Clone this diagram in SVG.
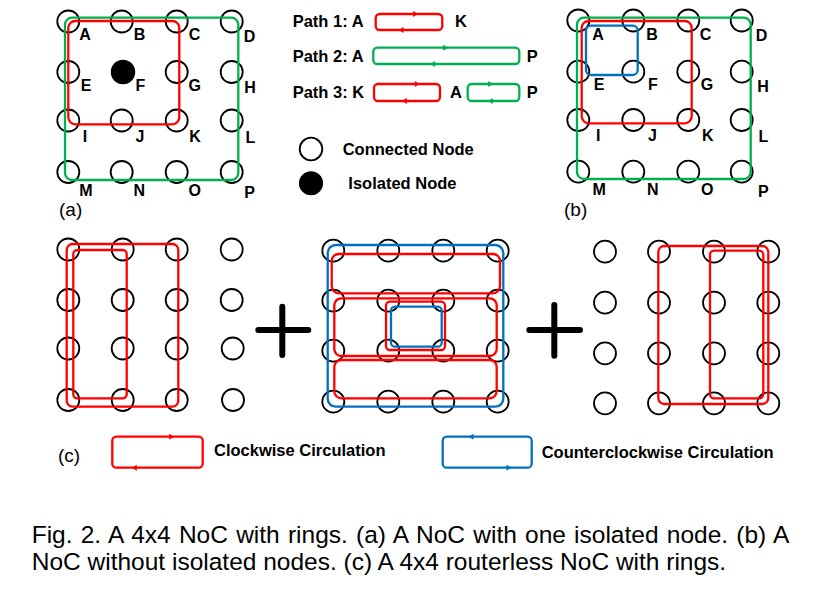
<svg xmlns="http://www.w3.org/2000/svg" xmlns:xlink="http://www.w3.org/1999/xlink" width="823" height="598" viewBox="0 0 823 598">
<style>
.n{fill:#fff;stroke:#000;stroke-width:1.8}
.iso{fill:#000;stroke:#000;stroke-width:1.5}
.lb{font-family:"Liberation Sans",Arial,sans-serif;font-weight:bold;font-size:16px;fill:#000;text-anchor:middle}
.bt{font-family:"Liberation Sans",Arial,sans-serif;font-weight:bold;font-size:16.5px;fill:#000}
.rg{font-family:"Liberation Sans",Arial,sans-serif;font-size:19px;fill:#000}
.cap{font-family:"Liberation Sans",Arial,sans-serif;font-size:24.5px;fill:#000}
.r{fill:none;stroke:#ff0000;stroke-width:2.3}
.g{fill:none;stroke:#00b050;stroke-width:2.3}
.b{fill:none;stroke:#0070c0;stroke-width:2.3}
.plus{stroke:#000;stroke-width:6;stroke-linecap:round;fill:none}
</style>
<defs>
<path id="ar" d="M1.5,0 L-3.5,-3 L-3.5,3 Z"/>
<path id="al" d="M-1.5,0 L3.5,-3 L3.5,3 Z"/>
</defs>
<rect width="823" height="598" fill="#fff"/>

<!-- Panel (a) -->
<g id="a-nodes">
<g id="a-A"><circle class="n" cx="68.3" cy="21.5" r="11"/><text class="lb" x="85" y="40">A</text></g>
<g id="a-B"><circle class="n" cx="121.7" cy="21.5" r="11"/><text class="lb" x="139.5" y="40">B</text></g>
<g id="a-C"><circle class="n" cx="176.7" cy="21.5" r="11"/><text class="lb" x="194.5" y="40">C</text></g>
<g id="a-D"><circle class="n" cx="231.7" cy="21.5" r="11"/><text class="lb" x="249.5" y="41.5">D</text></g>
<g id="a-E"><circle class="n" cx="68.3" cy="72" r="11"/><text class="lb" x="86" y="91">E</text></g>
<g id="a-F"><circle class="iso" cx="123" cy="72" r="11.5"/><text class="lb" x="140.3" y="91">F</text></g>
<g id="a-G"><circle class="n" cx="176.7" cy="72" r="11"/><text class="lb" x="194.7" y="91">G</text></g>
<g id="a-H"><circle class="n" cx="231.7" cy="72" r="11"/><text class="lb" x="250" y="92.5">H</text></g>
<g id="a-I"><circle class="n" cx="68.3" cy="120.5" r="11"/><text class="lb" x="85" y="142">I</text></g>
<g id="a-J"><circle class="n" cx="121.7" cy="120.5" r="11"/><text class="lb" x="140" y="142">J</text></g>
<g id="a-K"><circle class="n" cx="176.7" cy="120.5" r="11"/><text class="lb" x="195" y="142">K</text></g>
<g id="a-L"><circle class="n" cx="231.7" cy="120.5" r="11"/><text class="lb" x="250.3" y="142.5">L</text></g>
<g id="a-M"><circle class="n" cx="68.3" cy="172" r="11"/><text class="lb" x="85.8" y="196">M</text></g>
<g id="a-N"><circle class="n" cx="121.7" cy="172" r="11"/><text class="lb" x="139.2" y="196">N</text></g>
<g id="a-O"><circle class="n" cx="176.7" cy="172" r="11"/><text class="lb" x="194.7" y="196">O</text></g>
<g id="a-P"><circle class="n" cx="231.7" cy="172" r="11"/><text class="lb" x="249.5" y="197.5">P</text></g>
</g>
<text class="rg" x="59" y="216">(a)</text>

<!-- Panel (b) -->
<g id="b-nodes">
<g id="b-A"><circle class="n" cx="578.3" cy="20.5" r="11"/><text class="lb" x="598" y="39.5">A</text></g>
<g id="b-B"><circle class="n" cx="633.3" cy="20.5" r="11"/><text class="lb" x="652" y="39.5">B</text></g>
<g id="b-C"><circle class="n" cx="688.3" cy="20.5" r="11"/><text class="lb" x="705.5" y="39.5">C</text></g>
<g id="b-D"><circle class="n" cx="741.7" cy="20.5" r="11"/><text class="lb" x="761.5" y="41">D</text></g>
<g id="b-E"><circle class="n" cx="578.3" cy="71.7" r="11"/><text class="lb" x="599" y="90">E</text></g>
<g id="b-F"><circle class="n" cx="633.3" cy="71.7" r="11"/><text class="lb" x="652.8" y="90">F</text></g>
<g id="b-G"><circle class="n" cx="688.3" cy="71.7" r="11"/><text class="lb" x="707" y="90">G</text></g>
<g id="b-H"><circle class="n" cx="741.7" cy="71.7" r="11"/><text class="lb" x="763" y="92">H</text></g>
<g id="b-I"><circle class="n" cx="578.3" cy="120" r="11"/><text class="lb" x="598.3" y="140.5">I</text></g>
<g id="b-J"><circle class="n" cx="633.3" cy="120" r="11"/><text class="lb" x="652.5" y="140.5">J</text></g>
<g id="b-K"><circle class="n" cx="688.3" cy="120" r="11"/><text class="lb" x="707.7" y="140.5">K</text></g>
<g id="b-L"><circle class="n" cx="741.7" cy="120" r="11"/><text class="lb" x="763.3" y="141.5">L</text></g>
<g id="b-M"><circle class="n" cx="578.3" cy="171.7" r="11"/><text class="lb" x="599.2" y="195">M</text></g>
<g id="b-N"><circle class="n" cx="633.3" cy="171.7" r="11"/><text class="lb" x="652.8" y="195">N</text></g>
<g id="b-O"><circle class="n" cx="688.3" cy="171.7" r="11"/><text class="lb" x="707.3" y="195">O</text></g>
<g id="b-P"><circle class="n" cx="741.7" cy="171.7" r="11"/><text class="lb" x="763.3" y="196.5">P</text></g>
</g>
<text class="rg" x="564" y="216">(b)</text>

<!-- Top legend -->
<g id="legend-top">
<text class="bt" x="292.7" y="27">Path 1: A</text>
<text class="bt" x="455" y="27">K</text>
<text class="bt" x="292.7" y="62">Path 2: A</text>
<text class="bt" x="526.7" y="62">P</text>
<text class="bt" x="292.7" y="98">Path 3: K</text>
<text class="bt" x="450" y="98">A</text>
<text class="bt" x="526.7" y="98">P</text>
<g id="legend-connected"><circle class="n" cx="311" cy="149" r="11.3"/><text class="bt" x="342.7" y="155">Connected Node</text></g>
<g id="legend-isolated"><circle class="iso" cx="311" cy="183.3" r="11.3"/><text class="bt" x="348.3" y="189.3">Isolated Node</text></g>
</g>

<!-- Panel (c) nodes -->
<g id="c1-nodes">
<g id="c1-n11"><circle class="n" cx="68.3" cy="249.5" r="11"/></g>
<g id="c1-n12"><circle class="n" cx="122.7" cy="249.5" r="11"/></g>
<g id="c1-n13"><circle class="n" cx="176.7" cy="249.5" r="11"/></g>
<g id="c1-n14"><circle class="n" cx="231.7" cy="249.5" r="11"/></g>
<g id="c1-n21"><circle class="n" cx="68.3" cy="300" r="11"/></g>
<g id="c1-n22"><circle class="n" cx="122.7" cy="300" r="11"/></g>
<g id="c1-n23"><circle class="n" cx="176.7" cy="300" r="11"/></g>
<g id="c1-n24"><circle class="n" cx="231.7" cy="300" r="11"/></g>
<g id="c1-n31"><circle class="n" cx="68.3" cy="348.5" r="11"/></g>
<g id="c1-n32"><circle class="n" cx="122.7" cy="348.5" r="11"/></g>
<g id="c1-n33"><circle class="n" cx="176.7" cy="348.5" r="11"/></g>
<g id="c1-n34"><circle class="n" cx="232.7" cy="348.5" r="11"/></g>
<g id="c1-n41"><circle class="n" cx="68.3" cy="400" r="11"/></g>
<g id="c1-n42"><circle class="n" cx="122.7" cy="400" r="11"/></g>
<g id="c1-n43"><circle class="n" cx="176.7" cy="400" r="11"/></g>
<g id="c1-n44"><circle class="n" cx="233" cy="400" r="11"/></g>
</g>
<g id="c2-nodes">
<g id="c2-n11"><circle class="n" cx="333.3" cy="250.7" r="11"/></g>
<g id="c2-n12"><circle class="n" cx="388.3" cy="250.7" r="11"/></g>
<g id="c2-n13"><circle class="n" cx="443.3" cy="250.7" r="11"/></g>
<g id="c2-n14"><circle class="n" cx="497.7" cy="250.7" r="11"/></g>
<g id="c2-n21"><circle class="n" cx="333.3" cy="300.7" r="11"/></g>
<g id="c2-n22"><circle class="n" cx="388.3" cy="300.7" r="11"/></g>
<g id="c2-n23"><circle class="n" cx="443.3" cy="300.7" r="11"/></g>
<g id="c2-n24"><circle class="n" cx="497.7" cy="300.7" r="11"/></g>
<g id="c2-n31"><circle class="n" cx="333.3" cy="350.7" r="11"/></g>
<g id="c2-n32"><circle class="n" cx="388.3" cy="350.7" r="11"/></g>
<g id="c2-n33"><circle class="n" cx="443.3" cy="350.7" r="11"/></g>
<g id="c2-n34"><circle class="n" cx="497.7" cy="350.7" r="11"/></g>
<g id="c2-n41"><circle class="n" cx="333.3" cy="401.7" r="11"/></g>
<g id="c2-n42"><circle class="n" cx="388.3" cy="401.7" r="11"/></g>
<g id="c2-n43"><circle class="n" cx="443.3" cy="401.7" r="11"/></g>
<g id="c2-n44"><circle class="n" cx="497.7" cy="401.7" r="11"/></g>
</g>
<g id="c3-nodes">
<g id="c3-n11"><circle class="n" cx="605" cy="251.7" r="11"/></g>
<g id="c3-n12"><circle class="n" cx="659" cy="251.7" r="11"/></g>
<g id="c3-n13"><circle class="n" cx="714" cy="251.7" r="11"/></g>
<g id="c3-n14"><circle class="n" cx="768.3" cy="251.7" r="11"/></g>
<g id="c3-n21"><circle class="n" cx="605" cy="302.7" r="11"/></g>
<g id="c3-n22"><circle class="n" cx="659" cy="302.7" r="11"/></g>
<g id="c3-n23"><circle class="n" cx="714" cy="302.7" r="11"/></g>
<g id="c3-n24"><circle class="n" cx="768.3" cy="302.7" r="11"/></g>
<g id="c3-n31"><circle class="n" cx="605" cy="353.3" r="11"/></g>
<g id="c3-n32"><circle class="n" cx="659" cy="353.3" r="11"/></g>
<g id="c3-n33"><circle class="n" cx="714" cy="353.3" r="11"/></g>
<g id="c3-n34"><circle class="n" cx="768.3" cy="353.3" r="11"/></g>
<g id="c3-n41"><circle class="n" cx="605" cy="403.3" r="11"/></g>
<g id="c3-n42"><circle class="n" cx="659" cy="403.3" r="11"/></g>
<g id="c3-n43"><circle class="n" cx="714" cy="403.3" r="11"/></g>
<g id="c3-n44"><circle class="n" cx="768.3" cy="403.3" r="11"/></g>
</g>

<!-- Connectors / rings -->
<g id="connectors">
<rect class="g" x="65" y="17.7" width="173.3" height="162.3" rx="7"/>
<rect class="r" x="68.3" y="21" width="111" height="103.3" rx="7"/>

<rect class="g" x="577" y="17.7" width="173.7" height="161.3" rx="7"/>
<rect class="r" x="581.7" y="21" width="110" height="102.3" rx="7"/>
<rect class="b" x="586" y="25.7" width="51.7" height="49.3" rx="5"/>

<rect class="r" x="66.7" y="244" width="111.6" height="162.7" rx="6"/>
<rect class="r" x="73.3" y="250" width="53.4" height="148.3" rx="4"/>

<rect class="b" x="327.7" y="245" width="175.6" height="161.7" rx="8"/>
<rect class="r" x="331.7" y="254" width="168.3" height="39.3" rx="7"/>
<rect class="r" x="334.3" y="298.3" width="162.4" height="57.7" rx="7"/>
<rect class="r" x="334.3" y="360" width="162.4" height="38.3" rx="7"/>
<rect class="r" x="386" y="301.7" width="59" height="48.3" rx="4"/>
<rect class="b" x="391" y="306.7" width="50.7" height="40" rx="4"/>

<rect class="r" x="658.3" y="246" width="110" height="158" rx="6"/>
<rect class="r" x="710" y="250.7" width="53.3" height="147.6" rx="4"/>

<!-- legend rings -->
<rect class="r" x="375.7" y="14" width="66.6" height="16" rx="4"/>
<use xlink:href="#ar" x="416.7" y="14" fill="#ff0000"/>
<use xlink:href="#al" x="400" y="30" fill="#ff0000"/>
<rect class="g" x="373.3" y="47.7" width="146" height="16.3" rx="4"/>
<use xlink:href="#ar" x="446.7" y="47.7" fill="#00b050"/>
<use xlink:href="#al" x="431.7" y="64" fill="#00b050"/>
<rect class="r" x="374" y="84" width="66" height="17" rx="4"/>
<use xlink:href="#ar" x="418.3" y="84" fill="#ff0000"/>
<use xlink:href="#al" x="403.3" y="101" fill="#ff0000"/>
<rect class="g" x="467.7" y="84" width="51.6" height="17" rx="4"/>
<use xlink:href="#ar" x="491.7" y="84" fill="#00b050"/>
<use xlink:href="#al" x="489.3" y="101" fill="#00b050"/>

<rect class="r" x="112.3" y="436.7" width="90.4" height="31" rx="4"/>
<use xlink:href="#ar" x="172.7" y="436.7" fill="#ff0000"/>
<use xlink:href="#al" x="133.3" y="467.7" fill="#ff0000"/>
<rect class="b" x="442.7" y="436.7" width="89" height="31" rx="4"/>
<use xlink:href="#al" x="470" y="436.7" fill="#0070c0"/>
<use xlink:href="#ar" x="510" y="467.7" fill="#0070c0"/>
</g>

<path class="plus" d="M258.3,330 H308.3 M282.3,306.7 V355"/>
<path class="plus" d="M529.3,330 H580 M554.3,305 V355.7"/>

<text class="rg" x="58" y="462">(c)</text>
<text class="bt" x="214" y="456">Clockwise Circulation</text>
<text class="bt" x="541.7" y="458">Counterclockwise Circulation</text>

<text class="cap" x="31.7" y="542.7" word-spacing="1.4">Fig. 2. A 4x4 NoC with rings. (a) A NoC with one isolated node. (b) A</text>
<text class="cap" x="31.7" y="570">NoC without isolated nodes. (c) A 4x4 routerless NoC with rings.</text>
</svg>
